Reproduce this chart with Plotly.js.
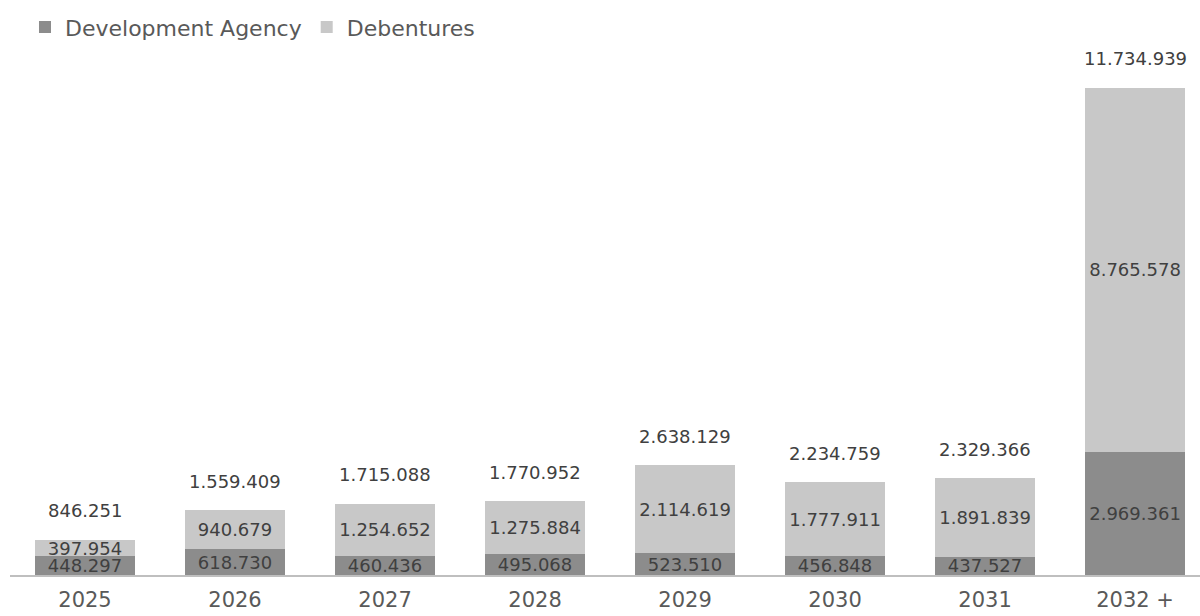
<!DOCTYPE html>
<html>
<head>
<meta charset="utf-8">
<script src="https://cdn.plot.ly/plotly-3.0.1.min.js"></script>
<style>html,body{margin:0;padding:0;background:#fff;}#chart{width:1200px;height:616px;}</style>
</head>
<body>
<div id="chart"></div>
<script>
const categories = ["2025", "2026", "2027", "2028", "2029", "2030", "2031", "2032 +"];
const developmentAgency = [448297, 618730, 460436, 495068, 523510, 456848, 437527, 2969361];
const debentures = [397954, 940679, 1254652, 1275884, 2114619, 1777911, 1891839, 8765578];
const seriesNames = ["Development Agency", "Debentures"];

function fmt(v) {
  return String(Math.round(v)).replace(/\B(?=(\d{3})+(?!\d))/g, ".");
}
const totals = categories.map((c, i) => developmentAgency[i] + debentures[i]);

const FONT = "DejaVu Sans, Open Sans, sans-serif";
const labelFont = {family: FONT, size: 18, color: "#404040"};

const common = {
  type: "bar",
  x: categories,
  width: 0.667,
  textposition: "inside",
  insidetextanchor: "middle",
  textangle: 0,
  constraintext: "none",
  insidetextfont: labelFont,
  hoverinfo: "skip",
  cliponaxis: false
};

const traces = [
  Object.assign({}, common, {
    name: seriesNames[0],
    y: developmentAgency,
    text: developmentAgency.map(fmt),
    marker: {color: "#8c8c8c"}
  }),
  Object.assign({}, common, {
    name: seriesNames[1],
    y: debentures,
    text: debentures.map(fmt),
    marker: {color: "#c8c8c8"}
  })
];

const annotations = categories.map((c, i) => ({
  x: i, y: totals[i], xref: "x", yref: "y",
  text: fmt(totals[i]), showarrow: false,
  yanchor: "middle", yshift: 29,
  font: labelFont
}));

const layout = {
  width: 1200, height: 616,
  margin: {l: 10, r: 0, t: 60, b: 41},
  paper_bgcolor: "#ffffff", plot_bgcolor: "#ffffff",
  barmode: "stack",
  showlegend: true,
  legend: {
    orientation: "h", x: 0.0126, xanchor: "left",
    yref: "container", y: 0.99, yanchor: "top",
    font: {family: FONT, size: 22, color: "#595959"},
    itemwidth: 30, traceorder: "normal"
  },
  xaxis: {
    type: "category",
    range: [-0.5, 7.433],
    showgrid: false, zeroline: false,
    showline: true, linecolor: "#bfbfbf", linewidth: 2,
    ticks: "", ticklabelstandoff: 5,
    tickfont: {family: FONT, size: 21, color: "#595959"}
  },
  yaxis: {
    range: [0, 12.4e6],
    visible: false, showgrid: false, zeroline: false
  },
  annotations: annotations
};

Plotly.newPlot("chart", traces, layout, {displayModeBar: false, staticPlot: true});
</script>
</body>
</html>
